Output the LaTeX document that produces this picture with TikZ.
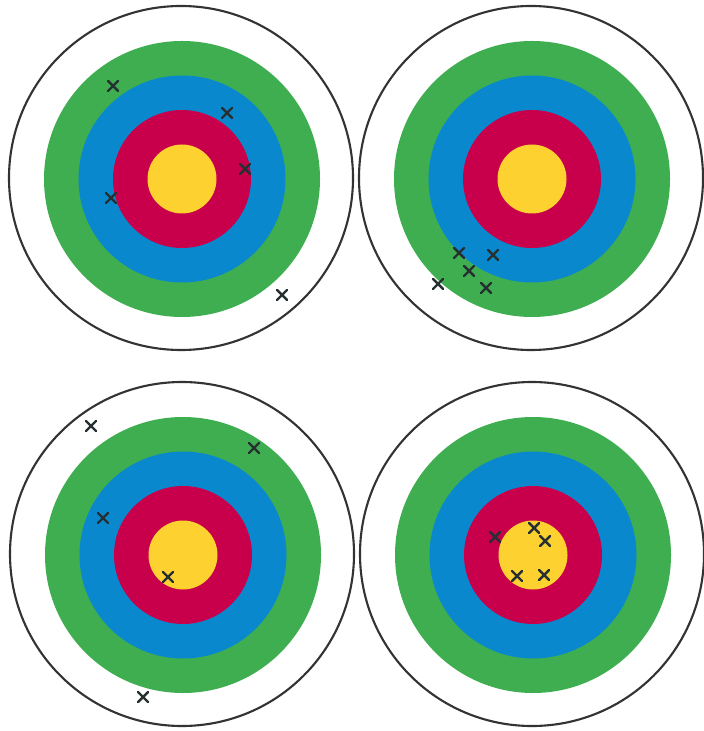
\documentclass[tikz,border=0pt]{standalone}
\usepackage{tikz}
\definecolor{ringgreen}{HTML}{3FAE50}
\definecolor{ringblue}{HTML}{0A88CE}
\definecolor{ringred}{HTML}{C8004B}
\definecolor{ringgold}{HTML}{FDD12F}
\definecolor{rimgray}{HTML}{333333}
\definecolor{hitgray}{HTML}{263030}

\begin{document}
\begin{tikzpicture}[x=0.01cm, y=-0.01cm]
  \useasboundingbox (0,0) rectangle (704,731);
  % --- four targets (pixel grid, y downward): centre x / centre y ---
  \foreach \cx/\cy in {182/179, 532/179, 183/555, 533/555}{
    \draw[rimgray, line width=0.6pt, fill=white] (\cx-1,\cy-1) circle (172);
    \fill[ringgreen] (\cx,\cy) circle (138);
    \fill[ringblue]  (\cx,\cy) circle (103.5);
    \fill[ringred]   (\cx,\cy) circle (69);
    \fill[ringgold]  (\cx,\cy) circle (34.5);
  }
  % --- hits: one list per target (top-left, top-right, bottom-left, bottom-right) ---
  \foreach \hx/\hy in {113/86, 227/113, 245/169, 111/198, 282/295,
                       459/253, 493/255, 469/271, 438/284, 486/288,
                       91/426, 254/448, 103/518, 168/577, 143/697,
                       495/537, 534/528, 545/541, 517/576, 544/575}{
    \draw[hitgray, line width=0.7pt, line cap=round]
      (\hx-5,\hy-5) -- (\hx+5,\hy+5) (\hx-5,\hy+5) -- (\hx+5,\hy-5);
  }
\end{tikzpicture}
\end{document}
